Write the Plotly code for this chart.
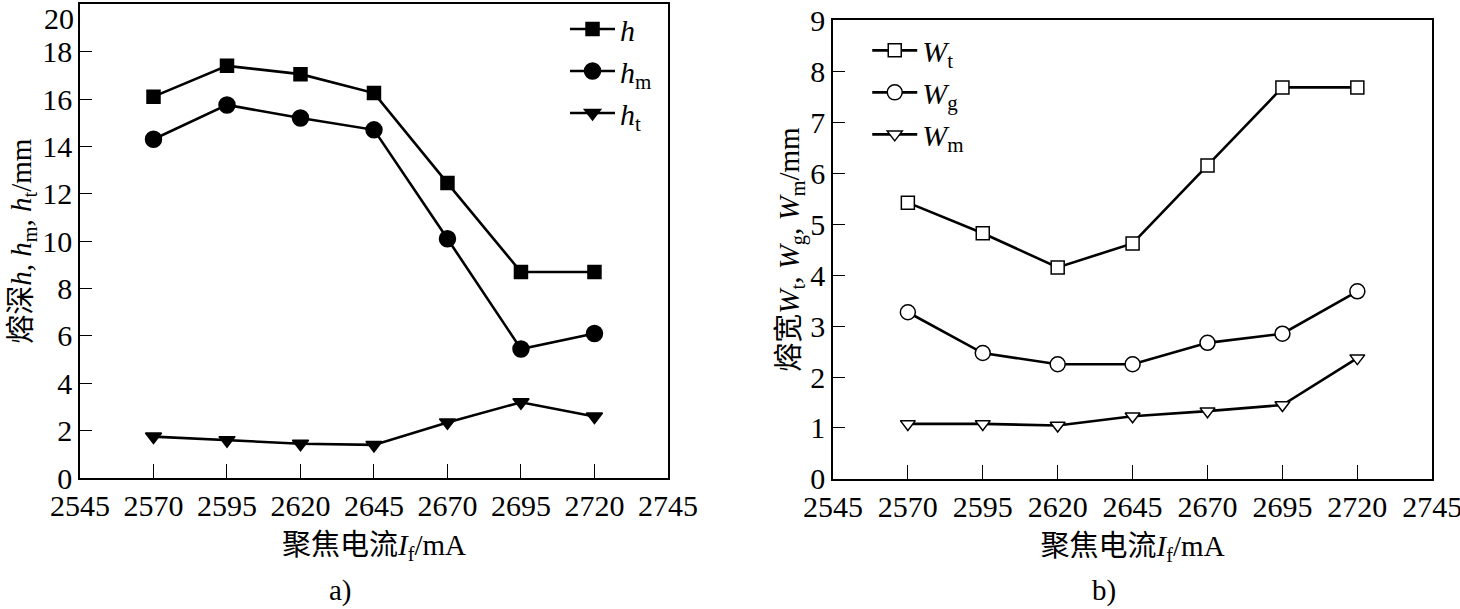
import plotly.graph_objects as go

current = [2570, 2595, 2620, 2645, 2670, 2695, 2720]
x_ticks = [2545, 2570, 2595, 2620, 2645, 2670, 2695, 2720, 2745]
y1_ticks = [0, 2, 4, 6, 8, 10, 12, 14, 16, 18, 20]
y2_ticks = [0, 1, 2, 3, 4, 5, 6, 7, 8, 9]

h = [16.1, 17.4, 17.05, 16.25, 12.45, 8.7, 8.7]
h_m = [14.3, 15.75, 15.2, 14.7, 10.1, 5.45, 6.1]
h_t = [1.75, 1.6, 1.45, 1.4, 2.35, 3.2, 2.6]

W_t = [5.42, 4.82, 4.15, 4.62, 6.15, 7.68, 7.68]
W_g = [3.27, 2.47, 2.25, 2.25, 2.67, 2.85, 3.68]
W_m = [1.08, 1.08, 1.05, 1.23, 1.33, 1.45, 2.37]

FONT = "Liberation Serif, Times New Roman, Noto Sans CJK SC, serif"
FS = 30
LW = 2.6

fig = go.Figure()

def add(y, name, symbol, size, xa, ya, leg, filled):
    fig.add_trace(go.Scatter(
        x=current, y=y, name=name, mode="lines+markers",
        line=dict(color="black", width=LW),
        marker=dict(symbol=symbol, size=size,
                    color="black" if filled else "white",
                    line=dict(color="black", width=1.5)),
        xaxis=xa, yaxis=ya, legend=leg,
    ))

add(h, "<i>h</i>", "square", 13, "x", "y", "legend", True)
add(h_m, "<i>h</i><sub>m</sub>", "circle", 16, "x", "y", "legend", True)
add(h_t, "<i>h</i><sub>t</sub>", "triangle-down", 14, "x", "y", "legend", True)

add(W_t, "<i>W</i><sub>t</sub>", "square", 13, "x2", "y2", "legend2", False)
add(W_g, "<i>W</i><sub>g</sub>", "circle", 15, "x2", "y2", "legend2", False)
add(W_m, "<i>W</i><sub>m</sub>", "triangle-down", 13, "x2", "y2", "legend2", False)

xaxis_common = dict(
    range=[2545, 2745], tickvals=x_ticks, ticktext=[str(v) for v in x_ticks],
    ticks="inside", ticklen=14, tickwidth=1.2, tickcolor="black",
    showline=True, linecolor="black", linewidth=1.5, mirror=True,
    showgrid=False, zeroline=False, automargin=False,
    ticklabeloverflow="allow",
    tickfont=dict(family=FONT, size=FS, color="black"),
    title=dict(text="聚焦电流<i>I</i><sub>f</sub>/mA",
               font=dict(family=FONT, size=FS - 1, color="black"), standoff=14),
)
yaxis_common = dict(
    ticks="inside", ticklen=12, tickwidth=1.2, tickcolor="black",
    showline=True, linecolor="black", linewidth=1.5, mirror=True,
    showgrid=False, zeroline=False, automargin=False,
    tickfont=dict(family=FONT, size=FS, color="black"),
)

y1_text = [str(v) for v in y1_ticks]
y1_text[-1] = ""  # top label drawn as annotation so it stays inside the page

fig.update_layout(
    width=1460, height=609,
    margin=dict(l=0, r=0, t=0, b=0, autoexpand=False),
    paper_bgcolor="white", plot_bgcolor="white",
    font=dict(family=FONT, color="black"),
    xaxis=dict(domain=[0.0548, 0.4575], anchor="y", **xaxis_common),
    xaxis2=dict(domain=[0.5705, 0.981], anchor="y2", **xaxis_common),
    yaxis=dict(domain=[0.215, 0.993], anchor="x", range=[0, 20],
               tickvals=y1_ticks, ticktext=y1_text,
               title=dict(text="熔深<i>h</i>, <i>h</i><sub>m</sub>, <i>h</i><sub>t</sub>/mm",
                          font=dict(family=FONT, size=FS - 1, color="black"), standoff=2),
               **yaxis_common),
    yaxis2=dict(domain=[0.2135, 0.967], anchor="x2", range=[0, 9],
                tickvals=y2_ticks,
                title=dict(text="熔宽<i>W</i><sub>t</sub>, <i>W</i><sub>g</sub>, <i>W</i><sub>m</sub>/mm",
                           font=dict(family=FONT, size=FS - 1, color="black"), standoff=2),
                **yaxis_common),
    legend=dict(x=0.387, y=0.995, xanchor="left", yanchor="top",
                bgcolor="rgba(0,0,0,0)", font=dict(family=FONT, size=FS),
                tracegroupgap=0, itemwidth=45),
    legend2=dict(x=0.594, y=0.96, xanchor="left", yanchor="top",
                 bgcolor="rgba(0,0,0,0)", font=dict(family=FONT, size=FS),
                 tracegroupgap=0, itemwidth=45),
    showlegend=True,
    annotations=[
        dict(text=str(y1_ticks[-1]), x=0, y=1.0, xref="x domain", yref="paper",
             xanchor="right", yanchor="top", xshift=-4,
             showarrow=False, font=dict(family=FONT, size=FS, color="black")),
        dict(text="a)", x=0.224, y=0.0, xref="paper", yref="paper",
             yanchor="bottom",
             showarrow=False, font=dict(family=FONT, size=FS - 1, color="black")),
        dict(text="b)", x=0.766, y=0.0, xref="paper", yref="paper",
             yanchor="bottom",
             showarrow=False, font=dict(family=FONT, size=FS - 1, color="black")),
    ],
)

fig.write_html("out.html", config={"displayModeBar": False},
               post_script="document.body.style.margin='0px';")
